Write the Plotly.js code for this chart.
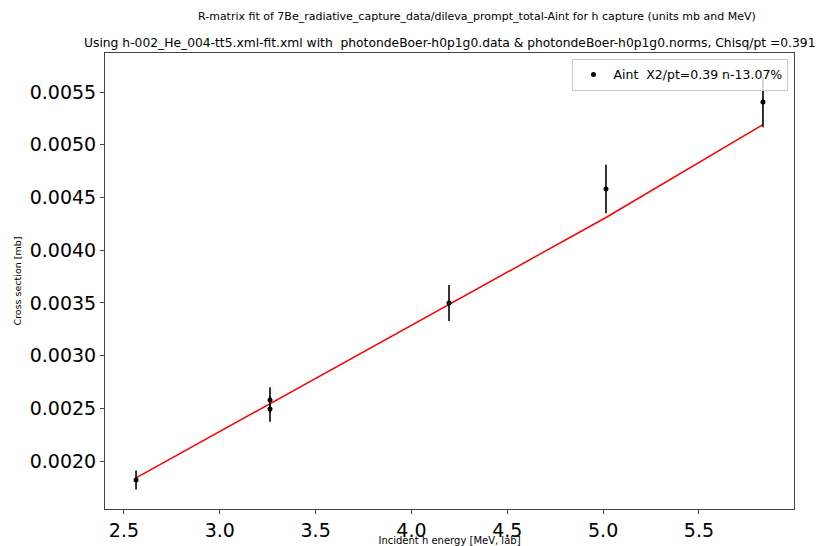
<!DOCTYPE html>
<html><head><meta charset="utf-8">
<script src="https://cdn.plot.ly/plotly-3.0.1.min.js"></script>
<style>body{margin:0;padding:0;background:#fff}#chart{width:818px;height:546px}</style>
</head><body><div id="chart"></div>
<script>
const energy = [2.563, 3.262, 3.262, 4.196, 5.015, 5.834];
const crossSection = [0.00182, 0.002579, 0.002493, 0.003499, 0.004580, 0.005405];
const errors = [0.00009, 0.00012, 0.00012, 0.00017, 0.00023, 0.00024];
const fitEnergy = [2.563, 3.262, 4.196, 5.015, 5.834];
const fitValues = [0.00184, 0.002545, 0.00349, 0.00431, 0.00519];
const yTicks = [0.0020, 0.0025, 0.0030, 0.0035, 0.0040, 0.0045, 0.0050, 0.0055];
const xTicks = [2.5, 3.0, 3.5, 4.0, 4.5, 5.0, 5.5];
const title1 = "R-matrix fit of 7Be_radiative_capture_data/dileva_prompt_total-Aint for h capture (units mb and MeV)";
const title2 = "Using h-002_He_004-tt5.xml-fit.xml with  photondeBoer-h0p1g0.data & photondeBoer-h0p1g0.norms, Chisq/pt =0.391";
const legendLabel = "Aint  X2/pt=0.39 n-13.07%";

const font = "DejaVu Sans, sans-serif";
const traces = [
  {x: fitEnergy, y: fitValues, mode: "lines", line: {color: "red", width: 1.5}, showlegend: false, hoverinfo: "skip"},
  {x: energy, y: crossSection, mode: "markers", name: legendLabel,
   marker: {color: "black", size: 5},
   error_y: {type: "data", array: errors, visible: true, color: "black", thickness: 1.6, width: 0}}
];
const layout = {
  width: 818, height: 546,
  margin: {l: 105, r: 24, t: 53, b: 37},
  paper_bgcolor: "#fff", plot_bgcolor: "#fff",
  font: {family: font, color: "#000"},
  showlegend: true,
  legend: {x: 0.992, y: 0.987, xanchor: "right", yanchor: "top", bgcolor: "rgba(255,255,255,0.8)",
           bordercolor: "#ccc", borderwidth: 1, font: {size: 12.5, family: font}},
  xaxis: {range: [2.401, 5.996], tickvals: xTicks, ticktext: xTicks.map(v => v.toFixed(1)),
          showgrid: false, zeroline: false, showline: true, mirror: true, linecolor: "#444", linewidth: 1,
          ticks: "outside", ticklen: 4, tickcolor: "#444", tickfont: {size: 19, family: font},
          title: {text: "Incident h energy [MeV, lab]", font: {size: 10, family: font}, standoff: 4}},
  yaxis: {range: [0.001545, 0.00587], tickvals: yTicks, ticktext: yTicks.map(v => v.toFixed(4)),
          showgrid: false, zeroline: false, showline: true, mirror: true, linecolor: "#444", linewidth: 1,
          ticks: "outside", ticklen: 4, tickcolor: "#444", tickfont: {size: 19, family: font},
          title: {text: "Cross section [mb]", font: {size: 9.5, family: font}, standoff: 6}},
  annotations: [
    {text: title1, xref: "paper", yref: "paper", x: 0.132, y: 1, yshift: 37, xanchor: "left", yanchor: "middle",
     showarrow: false, font: {size: 11, family: font}},
    {text: title2, xref: "paper", yref: "paper", x: -0.0334, y: 1, yshift: 10, xanchor: "left", yanchor: "middle",
     showarrow: false, font: {size: 12.3, family: font}}
  ]
};
Plotly.newPlot("chart", traces, layout, {displayModeBar: false, staticPlot: true});
</script></body></html>
